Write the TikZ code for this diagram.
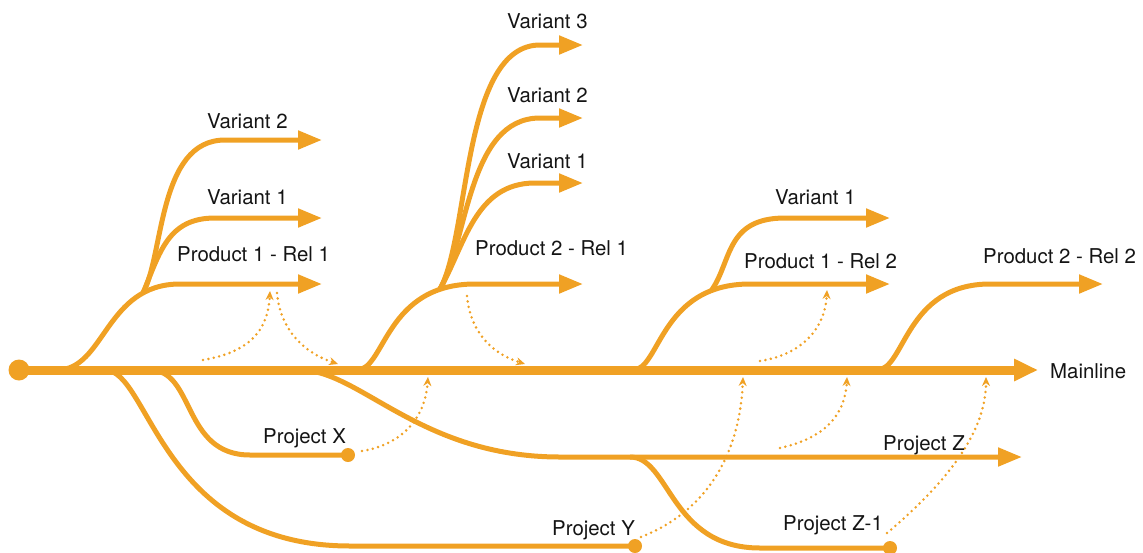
\documentclass[tikz,border=0pt]{standalone}
\usepackage{fontspec}
\setmainfont{TeX Gyre Heros}
\usetikzlibrary{arrows.meta}
\definecolor{br}{RGB}{240,161,36}
\definecolor{ink}{RGB}{20,20,20}
\begin{document}
\begin{tikzpicture}[x=1pt,y=-1pt,
  branch/.style={draw=br,line width=5pt,-{Triangle[length=24pt,width=18pt]}},
  stub/.style={draw=br,line width=5pt},
  mainl/.style={draw=br,line width=9pt,-{Triangle[length=24pt,width=21pt]}},
  merge/.style={draw=br,line width=2.8pt,dash pattern=on 0pt off 5.5pt,line cap=round,-{Stealth[length=9pt,width=8pt]}},
  lbl/.style={anchor=base west,inner sep=0pt,font=\fontsize{20.4}{24}\selectfont,text=ink},
  enddot/.style={circle,fill=br,inner sep=0pt,minimum size=14pt},
  startdot/.style={circle,fill=br,inner sep=0pt,minimum size=21pt}]
\useasboundingbox (0,0) rectangle (1143,552);

% ---------- coordinates ----------
\coordinate (mEnd) at (1038,370);
\coordinate (a11) at (57,370);   \coordinate (t11) at (322,284);
\coordinate (j11) at (143,293);  \coordinate (t11v1) at (322,218); \coordinate (t11v2) at (322,140);
\coordinate (a21) at (357,370);  \coordinate (t21) at (583,284);
\coordinate (j21) at (440,289);  \coordinate (t21v1) at (583,183); \coordinate (t21v2) at (583,118); \coordinate (t21v3) at (583,45);
\coordinate (a12) at (633,370);  \coordinate (t12) at (890,284);
\coordinate (j12) at (711,291);  \coordinate (t12v1) at (890,218);
\coordinate (a22) at (877,370);  \coordinate (t22) at (1103,284);
\coordinate (aX) at (150,370);
\coordinate (aY) at (105,370);
\coordinate (aZ) at (300,370);   \coordinate (tZ) at (1022,457);
\coordinate (aZ1) at (630,457);

% ---------- end dots ----------
\node[startdot] (start) at (19,370) {};
\node[enddot] (dX) at (348,455) {};
\node[enddot] (dY) at (635,546) {};
\node[enddot] (dZ1) at (890,548) {};

% ---------- lower branches ----------
\draw[stub] (aX) .. controls (195,370) and (182,455) .. (250,455) -- (dX.center);
\draw[stub] (aY) .. controls (150,370) and (160,546) .. (350,546) -- (dY.center);
\draw[branch] (aZ) .. controls (360,370) and (420,457) .. (560,457) -- (tZ);
\draw[stub] (aZ1) .. controls (670,457) and (670,548) .. (760,548) -- (dZ1.center);

% ---------- upper branches ----------
\draw[branch] (a11) .. controls (105,370) and (105,284) .. (180,284) -- (t11);
\draw[branch] (j11) .. controls (164,255) and (158,140) .. (225,140) -- (t11v2);
\draw[branch] (j11) .. controls (160,252) and (168,218) .. (215,218) -- (t11v1);

\draw[branch] (a21) .. controls (385,370) and (385,284) .. (475,284) -- (t21);
\draw[branch] (j21) .. controls (470,235) and (462,45) .. (540,45) -- (t21v3);
\draw[branch] (j21) .. controls (468,240) and (468,118) .. (540,118) -- (t21v2);
\draw[branch] (j21) .. controls (465,245) and (475,183) .. (535,183) -- (t21v1);

\draw[branch] (a12) .. controls (660,370) and (660,284) .. (750,284) -- (t12);
\draw[branch] (j12) .. controls (732,262) and (725,218) .. (785,218) -- (t12v1);

\draw[branch] (a22) .. controls (905,370) and (905,284) .. (990,284) -- (t22);

% ---------- mainline ----------
\draw[mainl] (start.center) -- (mEnd);

% ---------- merges ----------
\coordinate (m1s) at (203,360); \coordinate (m1e) at (270,291);
\coordinate (m2s) at (277,293); \coordinate (m2e) at (338,364);
\coordinate (m3s) at (467,296); \coordinate (m3e) at (525,364);
\coordinate (m4s) at (362,451); \coordinate (m4e) at (428,377);
\coordinate (m5s) at (760,361); \coordinate (m5e) at (827,290);
\coordinate (m6s) at (641,537); \coordinate (m6e) at (743,377);
\coordinate (m7s) at (780,448); \coordinate (m7e) at (847,377);
\coordinate (m8s) at (887,533); \coordinate (m8e) at (986,377);
\draw[merge] (m1s) .. controls (250,352) and (268,330) .. (m1e);
\draw[merge] (m2s) .. controls (280,328) and (302,352) .. (m2e);
\draw[merge] (m3s) .. controls (470,330) and (490,353) .. (m3e);
\draw[merge] (m4s) .. controls (400,445) and (425,420) .. (m4e);
\draw[merge] (m5s) .. controls (800,355) and (825,330) .. (m5e);
\draw[merge] (m6s) .. controls (710,510) and (740,450) .. (m6e);
\draw[merge] (m7s) .. controls (825,438) and (845,415) .. (m7e);
\draw[merge] (m8s) .. controls (950,480) and (986,430) .. (m8e);

% ---------- labels ----------
\node[lbl] (l11v2) at (207,128) {Variant 2};
\node[lbl] (l11v1) at (207,204) {Variant 1};
\node[lbl] (l11) at (177,261) {Product 1 - Rel 1};
\node[lbl] (l21v3) at (507,28) {Variant 3};
\node[lbl] (l21v2) at (507,102) {Variant 2};
\node[lbl] (l21v1) at (507,168) {Variant 1};
\node[lbl] (l21) at (475,255) {Product 2 - Rel 1};
\node[lbl] (l12v1) at (775,204) {Variant 1};
\node[lbl] (l12) at (744,268) {Product 1 - Rel 2};
\node[lbl] (l22) at (983,263) {Product 2 - Rel 2};
\node[lbl] (lM) at (1050,378) {Mainline};
\node[lbl] (lX) at (263,443) {Project X};
\node[lbl] (lY) at (552,535) {Project Y};
\node[lbl] (lZ) at (883,450) {Project Z};
\node[lbl] (lZ1) at (783,530) {Project Z-1};
\end{tikzpicture}
\end{document}
